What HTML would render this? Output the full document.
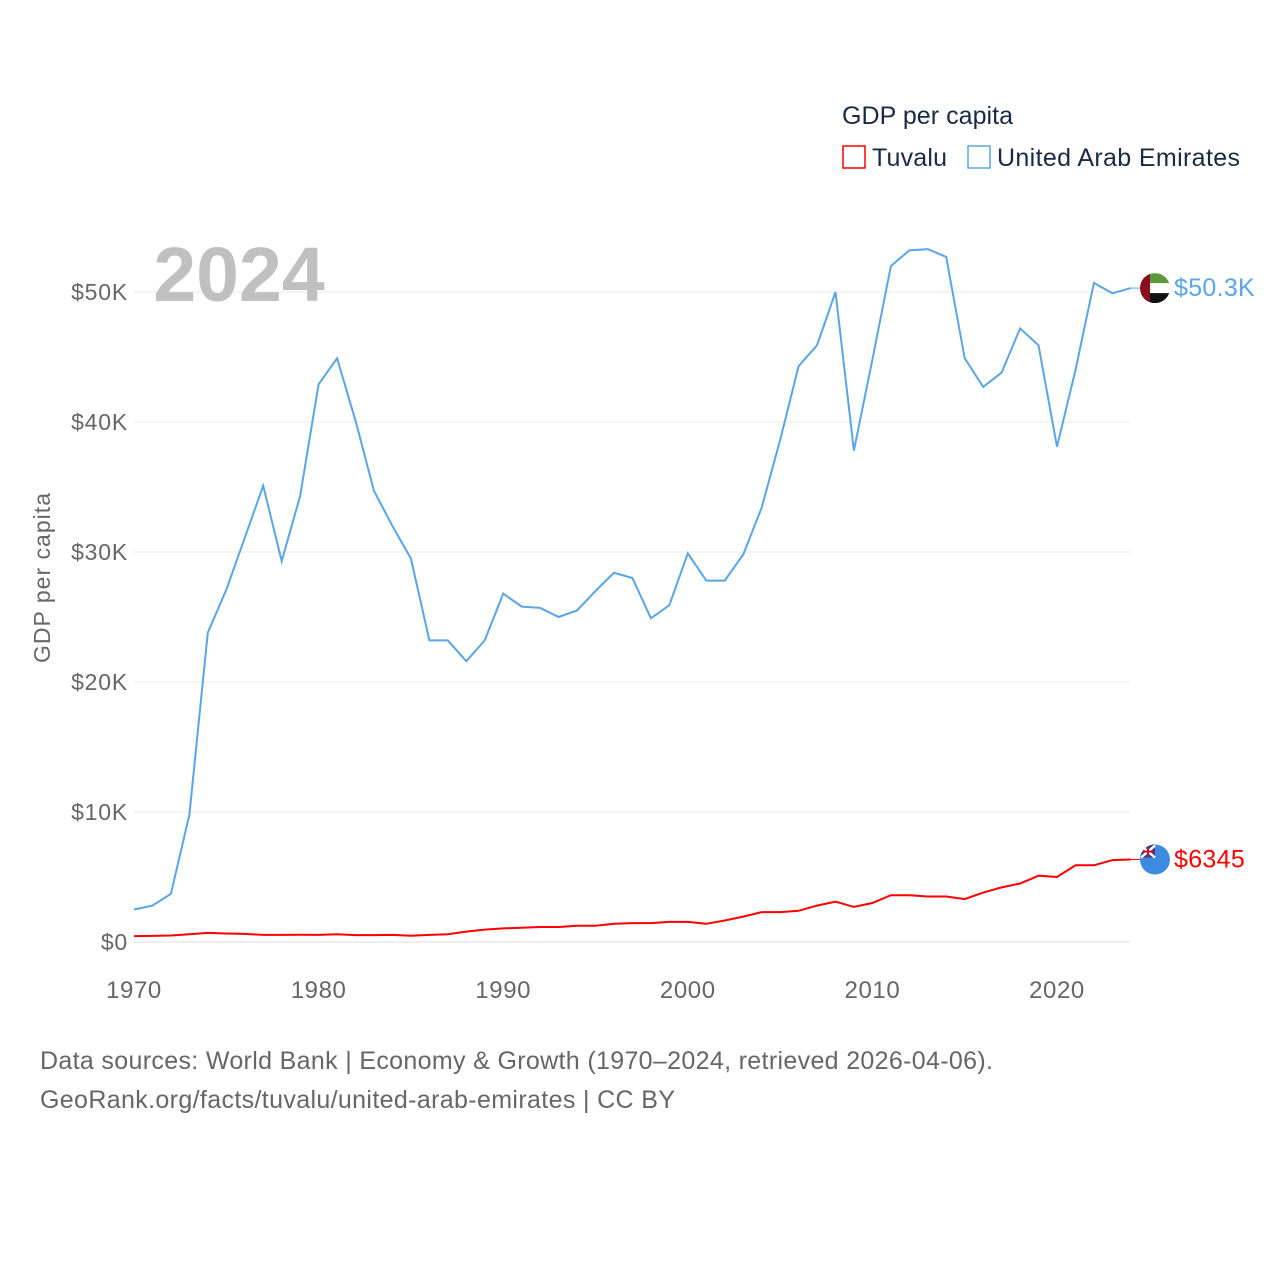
<!DOCTYPE html>
<html><head><meta charset="utf-8"><style>
body{margin:0;background:#fff;}
svg{display:block;font-family:"Liberation Sans",sans-serif;}
</style></head><body>
<svg width="1280" height="1280" viewBox="0 0 1280 1280">
<defs>
<clipPath id="cu"><circle cx="1155" cy="288" r="15"/></clipPath>
<clipPath id="ct"><circle cx="1155" cy="859.5" r="15"/></clipPath>
</defs>
<g id="grid"></g>
<g id="yt"></g>
<g id="xt"></g>
<text x="239" y="301" font-size="77" font-weight="bold" fill="#c0c0c0" text-anchor="middle">2024</text>
<text transform="translate(50,578) rotate(-90)" font-size="23" fill="#666" text-anchor="middle" textLength="170">GDP per capita</text>
<text x="842" y="124" font-size="25" fill="#1a2a44" textLength="171">GDP per capita</text>
<g><rect x="843" y="146" width="22" height="22" fill="none" stroke="#f00" stroke-width="1.5"/><text x="872" y="166" font-size="25" fill="#1a2a44" textLength="75">Tuvalu</text></g>
<g><rect x="968" y="146" width="22" height="22" fill="none" stroke="#5aa5e8" stroke-width="1.5"/><text x="997" y="166" font-size="25" fill="#1a2a44" textLength="243">United Arab Emirates</text></g>
<path id="uae" fill="none" stroke="#5aa5e8" stroke-width="2"/>
<path id="tuv" fill="none" stroke="#f00" stroke-width="2"/>
<g id="ends"></g>
<text x="40" y="1069" font-size="25" fill="#666" textLength="953">Data sources: World Bank | Economy &amp; Growth (1970–2024, retrieved 2026-04-06).</text>
<text x="40" y="1108" font-size="25" fill="#666" textLength="635">GeoRank.org/facts/tuvalu/united-arab-emirates | CC BY</text>
</svg>
<script>
const years=[];for(let y=1970;y<=2024;y++)years.push(y);
const uaeValues=[2.5,2.8,3.7,9.8,23.8,27.1,31.1,35.1,29.3,34.3,42.9,44.9,40.1,34.7,32,29.5,23.2,23.2,21.6,23.2,26.8,25.8,25.7,25,25.5,27,28.4,28,24.9,25.9,29.9,27.8,27.8,29.8,33.4,38.6,44.3,45.9,50,37.8,44.8,52,53.2,53.3,52.7,44.9,42.7,43.8,47.2,45.9,38.1,44,50.7,49.9,50.3];
const tuvaluValues=[0.45,0.47,0.5,0.6,0.7,0.65,0.62,0.55,0.55,0.56,0.55,0.6,0.53,0.53,0.55,0.48,0.55,0.6,0.8,0.95,1.05,1.1,1.15,1.15,1.25,1.25,1.4,1.45,1.45,1.55,1.55,1.4,1.65,1.95,2.3,2.3,2.4,2.8,3.1,2.7,3.0,3.6,3.6,3.5,3.5,3.3,3.8,4.2,4.5,5.1,5.0,5.9,5.9,6.3,6.345];
const yTicks=[0,10,20,30,40,50];
const yTickLabels=["$0","$10K","$20K","$30K","$40K","$50K"];
const xTicks=[1970,1980,1990,2000,2010,2020];
const NS="http://www.w3.org/2000/svg";
const X=y=>134+(y-1970)*18.46;
const Y=v=>942-v*13;
function mk(tag,attrs,parent,text){const e=document.createElementNS(NS,tag);for(const k in attrs)e.setAttribute(k,attrs[k]);if(text!=null)e.textContent=text;parent.appendChild(e);return e;}
const grid=document.getElementById('grid'),yt=document.getElementById('yt'),xt=document.getElementById('xt');
yTicks.forEach((t,i)=>{
 const l=mk('line',{x1:134,x2:1130,y1:Y(t),y2:Y(t),stroke:i==0?'#ddd':'#eaeaea','stroke-width':1},grid);
 
 
 const tx=mk('text',{x:128,y:Y(t)+8,'font-size':23,fill:'#666','text-anchor':'end','letter-spacing':'0.8'},yt,yTickLabels[i]);
 
 
});
xTicks.forEach(t=>{
 const tx=mk('text',{x:X(t),y:998,'font-size':24,fill:'#666','text-anchor':'middle','letter-spacing':'0.6'},xt,String(t));
 
 
});
const path=v=>v.map((d,i)=>(i?'L':'M')+X(years[i]).toFixed(1)+','+Y(d).toFixed(1)).join('');
document.getElementById('uae').setAttribute('d',path(uaeValues));
document.getElementById('tuv').setAttribute('d',path(tuvaluValues));
const ends=document.getElementById('ends');
const lu=uaeValues[uaeValues.length-1],lt=tuvaluValues[tuvaluValues.length-1];
mk('line',{x1:X(2024),x2:1142,y1:Y(lu),y2:Y(lu),stroke:'#5aa5e8','stroke-width':1},ends);
mk('line',{x1:X(2024),x2:1142,y1:Y(lt),y2:Y(lt),stroke:'#f00','stroke-width':1},ends);
const cy=Y(lu);
document.querySelector('#cu circle').setAttribute('cy',cy);
const fu=mk('g',{'clip-path':'url(#cu)'},ends);


mk('rect',{x:1140,y:cy-15,width:30,height:10,fill:'#5a9a3c'},fu);
mk('rect',{x:1140,y:cy-5,width:30,height:10,fill:'#fff'},fu);
mk('rect',{x:1140,y:cy+5,width:30,height:10,fill:'#111'},fu);
mk('rect',{x:1140,y:cy-15,width:10,height:30,fill:'#8b0e1e'},fu);
const cyt=Y(lt);
document.querySelector('#ct circle').setAttribute('cy',cyt);
const ft=mk('g',{'clip-path':'url(#ct)'},ends);


mk('rect',{x:1140,y:cyt-15,width:30,height:30,fill:'#3d8be0'},ft);
mk('rect',{x:1140,y:cyt-15,width:15,height:13,fill:'#2a3f8f'},ft);
mk('path',{d:`M1141 ${cyt-14}L1155 ${cyt-2}M1155 ${cyt-14}L1141 ${cyt-2}`,stroke:'#fff','stroke-width':2.5},ft);
mk('path',{d:`M1148 ${cyt-15}V${cyt-2}M1140 ${cyt-8}H1155`,stroke:'#c8102e','stroke-width':2},ft);
const a=mk('text',{x:1174,y:cy+8,'font-size':25,fill:'#5aa5e8','letter-spacing':'0.3'},ends,'$'+lu.toFixed(1)+'K');


const b=mk('text',{x:1174,y:cyt+8,'font-size':25,fill:'#f00','letter-spacing':'0.3'},ends,'$'+Math.round(lt*1000));


</script>
</body></html>
